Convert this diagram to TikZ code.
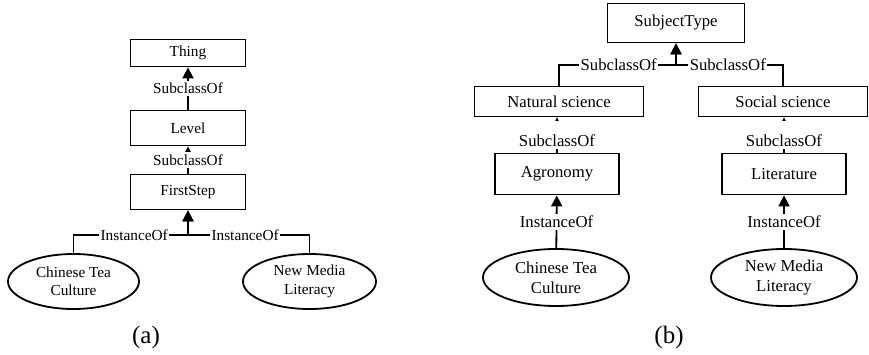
\documentclass[tikz,border=0pt]{standalone}
\usepackage{fontspec}
\setmainfont{Liberation Serif}
\usetikzlibrary{shapes.geometric,arrows.meta}
\begin{document}
\begin{tikzpicture}[x=1pt,y=-1pt,
  every node/.style={inner sep=0pt},
  box/.style={draw, line width=1.8pt, align=center},
  oval/.style={ellipse, draw, line width=1.8pt, align=center},
  conn/.style={line width=1.8pt},
  arr/.style={conn, -{Triangle[length=11pt,width=11pt]}},
  lab/.style={fill=white, inner xsep=1.5pt, inner ysep=2pt},
  tallab/.style={lab, text height=24pt, anchor=base},
  fa/.style={font=\fontsize{15.3}{18.4}\selectfont},
  fb/.style={font=\fontsize{16.7}{20}\selectfont},
  subcap/.style={font=\fontsize{25}{30}\selectfont}]
\useasboundingbox (0,0) rectangle (869,355);

% ---------- (a) ----------
\begin{scope}[fa]
\node[box, minimum width=115pt, minimum height=27pt] (thing) at (188,53) {Thing};
\node[box, minimum width=115pt, minimum height=35pt] (level) at (188,128) {Level};
\node[box, minimum width=115pt, minimum height=35pt] (first) at (188,192) {FirstStep};
\node[oval, minimum width=131pt, minimum height=55pt] (teaA) at (73.5,281.5) {Chinese Tea\\Culture};
\node[oval, minimum width=133pt, minimum height=55pt] (mediaA) at (309.5,281.5) {New Media\\Literacy};
\coordinate (ja) at (188,235);

\draw[arr] (level) -- node[lab]{SubclassOf} (thing);
\draw[arr] (first) -- node[lab, inner ysep=3pt]{SubclassOf} (level);
\draw[arr] (teaA.north) |- node[lab, pos=0.765]{InstanceOf} (ja) -- (first);
\draw[arr] (mediaA.north) |- node[lab, pos=0.765]{InstanceOf} (ja) -- (first);
\end{scope}
\node[subcap] (capA) at (146,337) {(a)};

% ---------- (b) ----------
\begin{scope}[fb]
\node[box, minimum width=137pt, minimum height=39pt] (subj) at (676,23) {SubjectType};
\node[box, minimum width=169pt, minimum height=30pt] (nat) at (559,101.5) {Natural science};
\node[box, minimum width=169pt, minimum height=30pt] (soc) at (783,101.5) {Social science};
\node[box, minimum width=124pt, minimum height=41pt] (agro) at (557,174) {Agronomy};
\node[box, minimum width=124pt, minimum height=41pt] (lit) at (784,174) {Literature};
\node[oval, minimum width=146pt, minimum height=57pt] (teaB) at (556,277.5) {Chinese Tea\\Culture};
\node[oval, minimum width=146pt, minimum height=57pt] (mediaB) at (784,277.5) {New Media\\Literacy};
\coordinate (jb) at (676,65);

\draw[arr] (nat.north) |- node[lab, pos=0.755]{SubclassOf} (jb) -- (subj);
\draw[arr] (soc.north) |- node[lab, pos=0.758]{SubclassOf} (jb) -- (subj);
\draw[arr] (agro.north) -- node[tallab, pos=0.167]{SubclassOf} (agro.north |- nat.south);
\draw[arr] (lit.north) -- node[tallab, pos=0.167]{SubclassOf} (lit.north |- soc.south);
\draw[arr] (teaB) -- node[lab]{InstanceOf} (agro);
\draw[arr] (mediaB) -- node[lab]{InstanceOf} (lit);
\end{scope}
\node[subcap] (capB) at (669,337) {(b)};
\end{tikzpicture}
\end{document}
